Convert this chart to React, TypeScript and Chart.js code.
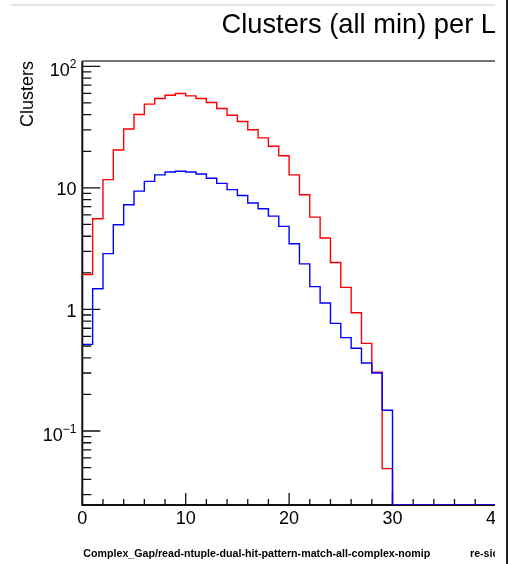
import React, { useEffect, useRef } from "react";
import { Chart, registerables } from "chart.js";

Chart.register(...registerables);

// ---- Data (histogram, 1-unit bins starting at 0) ----
const binStart = 0;
const binWidth = 1;
const redCounts = [
  1.94, 5.57, 11.7, 20.5, 30.5, 40.2, 48.9, 54.3, 57.8, 59.7,
  57.1, 54.3, 50.4, 45.0, 39.6, 35.2, 30.1, 25.8, 22.0, 18.4,
  12.8, 8.77, 5.75, 3.87, 2.43, 1.52, 0.94, 0.526, 0.305, 0.049,
  0, 0, 0, 0, 0, 0, 0, 0, 0, 0,
  0, 0, 0, 0, 0,
];
const blueCounts = [
  0.516, 1.48, 2.88, 4.98, 7.26, 9.4, 11.3, 12.8, 13.5, 13.7,
  13.5, 13.0, 12.0, 10.9, 9.68, 8.65, 7.5, 6.73, 5.86, 4.82,
  3.47, 2.37, 1.54, 1.13, 0.768, 0.586, 0.479, 0.363, 0.30, 0.148,
  0, 0, 0, 0, 0, 0, 0, 0, 0, 0,
  0, 0, 0, 0, 0,
];

const xMin = 0;
const xMax = 45;
const yMin = 0.02461;
const yMax = 110.6;

const xMajorTicks = [0, 10, 20, 30, 40];
const xTickLabels = ["0", "10", "20", "30", "40"];
const xMinorStep = 2;

const yMajorTicks = [0.1, 1, 10, 100];
const yTickBase = ["10", "1", "10", "10"];
const yTickExp = ["\u22121", "", "", "2"];

const titleText = "Clusters (all min) per Layer";
const yTitleText = "Clusters";
const footerLeft = "Complex_Gap/read-ntuple-dual-hit-pattern-match-all-complex-nomip";
const footerRight = "re-sic";

const FONT = "'Liberation Sans', Arial, Helvetica, sans-serif";

function toSteps(counts: number[]) {
  const pts: { x: number; y: number }[] = [];
  counts.forEach((c, i) => {
    pts.push({ x: binStart + i * binWidth, y: c > 0 ? c : yMin });
  });
  const last = counts[counts.length - 1];
  pts.push({ x: binStart + counts.length * binWidth, y: last > 0 ? last : yMin });
  return pts;
}

const rootPlugin = {
  id: "rootAxes",
  beforeDatasetsDraw(chart: any) {
    const { ctx, chartArea: ca, scales } = chart;
    const xs = scales.x;
    const ys = scales.y;
    ctx.save();

    // title
    ctx.fillStyle = "#000";
    ctx.font = `27.3px ${FONT}`;
    ctx.textAlign = "left";
    ctx.textBaseline = "alphabetic";
    ctx.fillText(titleText, 221.5, 33);

    // y title (rotated)
    ctx.save();
    ctx.translate(33, ca.top);
    ctx.rotate(-Math.PI / 2);
    ctx.font = `18px ${FONT}`;
    ctx.textAlign = "right";
    ctx.fillText(yTitleText, 0, 0);
    ctx.restore();

    // frame
    ctx.strokeStyle = "#444";
    ctx.lineWidth = 1.5;
    ctx.beginPath();
    ctx.moveTo(ca.left, ca.top);
    ctx.lineTo(ca.right, ca.top);
    ctx.stroke();

    ctx.strokeStyle = "#111";
    ctx.lineWidth = 2;
    ctx.beginPath();
    ctx.moveTo(ca.left, ca.top);
    ctx.lineTo(ca.left, ca.bottom);
    ctx.lineTo(ca.right, ca.bottom);
    ctx.stroke();

    // y ticks
    ctx.lineWidth = 1.3;
    ctx.strokeStyle = "#111";
    ctx.beginPath();
    for (let k = -3; k <= 3; k++) {
      for (let m = 1; m <= 9; m++) {
        const v = m * Math.pow(10, k);
        if (v < yMin || v > yMax) continue;
        const py = ys.getPixelForValue(v);
        const len = m === 1 ? 18 : 9;
        ctx.moveTo(ca.left, py);
        ctx.lineTo(ca.left + len, py);
      }
    }
    // x ticks
    for (let v = xMin; v <= xMax; v += xMinorStep) {
      const px = xs.getPixelForValue(v);
      const len = v % 10 === 0 ? 12 : 6;
      ctx.moveTo(px, ca.bottom);
      ctx.lineTo(px, ca.bottom - len);
    }
    ctx.stroke();

    // y labels
    ctx.fillStyle = "#000";
    const yLabRight = 76.5;
    yMajorTicks.forEach((v, i) => {
      const py = ys.getPixelForValue(v);
      const exp = yTickExp[i];
      if (exp) {
        ctx.font = `12px ${FONT}`;
        ctx.textAlign = "right";
        const sw = ctx.measureText(exp).width;
        const baseY = py + 10;
        ctx.fillText(exp, yLabRight, baseY - 8);
        ctx.font = `18px ${FONT}`;
        ctx.fillText(yTickBase[i], yLabRight - sw, baseY);
      } else {
        ctx.font = `18px ${FONT}`;
        ctx.textAlign = "right";
        ctx.fillText(yTickBase[i], yLabRight, py + 7.5);
      }
    });

    // x labels
    ctx.font = `18px ${FONT}`;
    ctx.textAlign = "center";
    xMajorTicks.forEach((v, i) => {
      ctx.fillText(xTickLabels[i], xs.getPixelForValue(v), 524);
    });

    // footer
    ctx.textAlign = "left";
    ctx.font = `bold 10px ${FONT}`;
    const w10 = ctx.measureText(footerLeft).width;
    const fs = (10 * 347) / w10;
    ctx.font = `bold ${fs.toFixed(2)}px ${FONT}`;
    ctx.fillText(footerLeft, 83.3, 557);
    ctx.fillText(footerRight, 470, 557);

    ctx.restore();
  },
};

export default function App() {
  const canvasRef = useRef<HTMLCanvasElement | null>(null);

  useEffect(() => {
    if (!canvasRef.current) return;
    const chart = new Chart(canvasRef.current, {
      type: "line",
      data: {
        datasets: [
          {
            label: "red",
            data: toSteps(redCounts),
            borderColor: "#ff0000",
            borderWidth: 1.4,
            pointRadius: 0,
            stepped: true,
            fill: false,
            order: 1,
          },
          {
            label: "blue",
            data: toSteps(blueCounts),
            borderColor: "#0000ff",
            borderWidth: 1.4,
            pointRadius: 0,
            stepped: true,
            fill: false,
            order: 0,
          },
        ],
      },
      options: {
        animation: false,
        responsive: false,
        devicePixelRatio: 1,
        layout: { padding: { left: 82.3, top: 61, right: 12.4, bottom: 59 } },
        plugins: {
          legend: { display: false },
          tooltip: { enabled: false },
          title: { display: false },
        },
        scales: {
          x: { type: "linear", min: xMin, max: xMax, display: false },
          y: { type: "logarithmic", min: yMin, max: yMax, display: false },
        },
      },
      plugins: [rootPlugin],
    });
    return () => chart.destroy();
  }, []);

  return (
    <>
      <div
        style={{
          position: "absolute",
          left: 11,
          top: 4,
          width: 484,
          height: 2,
          background: "#e6e6e6",
        }}
      />
      <div
        style={{
          position: "absolute",
          left: 0,
          top: 0,
          width: 495,
          height: 564,
          overflow: "hidden",
        }}
      >
        <canvas ref={canvasRef} width={560} height={564} style={{ display: "block" }} />
      </div>
      <div
        style={{
          position: "absolute",
          left: 506,
          top: 0,
          width: 2,
          height: 564,
          background: "#222",
        }}
      />
    </>
  );
}
